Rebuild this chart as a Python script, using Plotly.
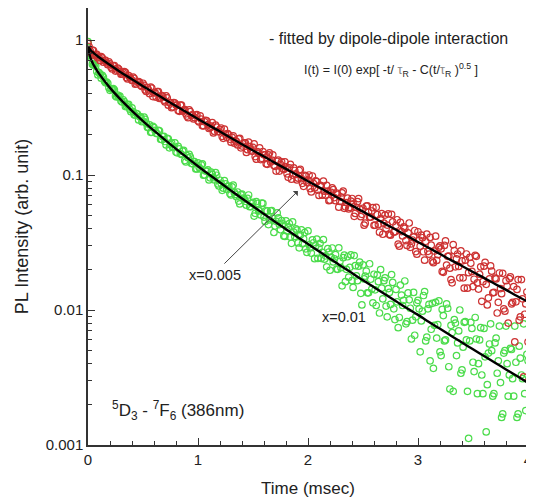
import plotly.graph_objects as go

# sampling grid A (every 0.02 ms starting at 0)
TIME_MS = [
    0.00, 0.02, 0.04, 0.06, 0.08, 0.10, 0.12, 0.14, 0.16, 0.18,
    0.20, 0.22, 0.24, 0.26, 0.28, 0.30, 0.32, 0.34, 0.36, 0.38,
    0.40, 0.42, 0.44, 0.46, 0.48, 0.50, 0.52, 0.54, 0.56, 0.58,
    0.60, 0.62, 0.64, 0.66, 0.68, 0.70, 0.72, 0.74, 0.76, 0.78,
    0.80, 0.82, 0.84, 0.86, 0.88, 0.90, 0.92, 0.94, 0.96, 0.98,
    1.00, 1.02, 1.04, 1.06, 1.08, 1.10, 1.12, 1.14, 1.16, 1.18,
    1.20, 1.22, 1.24, 1.26, 1.28, 1.30, 1.32, 1.34, 1.36, 1.38,
    1.40, 1.42, 1.44, 1.46, 1.48, 1.50, 1.52, 1.54, 1.56, 1.58,
    1.60, 1.62, 1.64, 1.66, 1.68, 1.70, 1.72, 1.74, 1.76, 1.78,
    1.80, 1.82, 1.84, 1.86, 1.88, 1.90, 1.92, 1.94, 1.96, 1.98,
    2.00, 2.02, 2.04, 2.06, 2.08, 2.10, 2.12, 2.14, 2.16, 2.18,
    2.20, 2.22, 2.24, 2.26, 2.28, 2.30, 2.32, 2.34, 2.36, 2.38,
    2.40, 2.42, 2.44, 2.46, 2.48, 2.50, 2.52, 2.54, 2.56, 2.58,
    2.60, 2.62, 2.64, 2.66, 2.68, 2.70, 2.72, 2.74, 2.76, 2.78,
    2.80, 2.82, 2.84, 2.86, 2.88, 2.90, 2.92, 2.94, 2.96, 2.98,
    3.00, 3.02, 3.04, 3.06, 3.08, 3.10, 3.12, 3.14, 3.16, 3.18,
    3.20, 3.22, 3.24, 3.26, 3.28, 3.30, 3.32, 3.34, 3.36, 3.38,
    3.40, 3.42, 3.44, 3.46, 3.48, 3.50, 3.52, 3.54, 3.56, 3.58,
    3.60, 3.62, 3.64, 3.66, 3.68, 3.70, 3.72, 3.74, 3.76, 3.78,
    3.80, 3.82, 3.84, 3.86, 3.88, 3.90, 3.92, 3.94, 3.96, 3.98,
    4.00,
]

# sampling grid B (every 0.02 ms starting at 0.01)
TIME_MS_B = [
    0.01, 0.03, 0.05, 0.07, 0.09, 0.11, 0.13, 0.15, 0.17, 0.19,
    0.21, 0.23, 0.25, 0.27, 0.29, 0.31, 0.33, 0.35, 0.37, 0.39,
    0.41, 0.43, 0.45, 0.47, 0.49, 0.51, 0.53, 0.55, 0.57, 0.59,
    0.61, 0.63, 0.65, 0.67, 0.69, 0.71, 0.73, 0.75, 0.77, 0.79,
    0.81, 0.83, 0.85, 0.87, 0.89, 0.91, 0.93, 0.95, 0.97, 0.99,
    1.01, 1.03, 1.05, 1.07, 1.09, 1.11, 1.13, 1.15, 1.17, 1.19,
    1.21, 1.23, 1.25, 1.27, 1.29, 1.31, 1.33, 1.35, 1.37, 1.39,
    1.41, 1.43, 1.45, 1.47, 1.49, 1.51, 1.53, 1.55, 1.57, 1.59,
    1.61, 1.63, 1.65, 1.67, 1.69, 1.71, 1.73, 1.75, 1.77, 1.79,
    1.81, 1.83, 1.85, 1.87, 1.89, 1.91, 1.93, 1.95, 1.97, 1.99,
    2.01, 2.03, 2.05, 2.07, 2.09, 2.11, 2.13, 2.15, 2.17, 2.19,
    2.21, 2.23, 2.25, 2.27, 2.29, 2.31, 2.33, 2.35, 2.37, 2.39,
    2.41, 2.43, 2.45, 2.47, 2.49, 2.51, 2.53, 2.55, 2.57, 2.59,
    2.61, 2.63, 2.65, 2.67, 2.69, 2.71, 2.73, 2.75, 2.77, 2.79,
    2.81, 2.83, 2.85, 2.87, 2.89, 2.91, 2.93, 2.95, 2.97, 2.99,
    3.01, 3.03, 3.05, 3.07, 3.09, 3.11, 3.13, 3.15, 3.17, 3.19,
    3.21, 3.23, 3.25, 3.27, 3.29, 3.31, 3.33, 3.35, 3.37, 3.39,
    3.41, 3.43, 3.45, 3.47, 3.49, 3.51, 3.53, 3.55, 3.57, 3.59,
    3.61, 3.63, 3.65, 3.67, 3.69, 3.71, 3.73, 3.75, 3.77, 3.79,
    3.81, 3.83, 3.85, 3.87, 3.89, 3.91, 3.93, 3.95, 3.97, 3.99,
]

# x = 0.005 (red), grid A
RED_PL = [
    0.945, 0.830, 0.840, 0.766, 0.782, 0.745, 0.753, 0.685, 0.708, 0.656,
    0.665, 0.610, 0.645, 0.599, 0.608, 0.558, 0.573, 0.576, 0.515, 0.529,
    0.502, 0.520, 0.474, 0.491, 0.461, 0.478, 0.427, 0.444, 0.400, 0.440,
    0.406, 0.377, 0.415, 0.372, 0.382, 0.348, 0.373, 0.344, 0.315, 0.344,
    0.330, 0.301, 0.329, 0.297, 0.305, 0.273, 0.304, 0.277, 0.260, 0.277,
    0.252, 0.274, 0.232, 0.248, 0.252, 0.221, 0.230, 0.205, 0.234, 0.210,
    0.218, 0.193, 0.219, 0.190, 0.198, 0.175, 0.195, 0.180, 0.167, 0.187,
    0.164, 0.173, 0.147, 0.175, 0.153, 0.160, 0.137, 0.149, 0.159, 0.133,
    0.141, 0.121, 0.141, 0.125, 0.141, 0.116, 0.126, 0.107, 0.125, 0.110,
    0.115, 0.0961, 0.120, 0.0998, 0.108, 0.0920, 0.108, 0.0939, 0.0825, 0.0982,
    0.0917, 0.0792, 0.0983, 0.0802, 0.0893, 0.0706, 0.0834, 0.0901, 0.0708, 0.0760,
    0.0651, 0.0802, 0.0680, 0.0734, 0.0578, 0.0684, 0.0760, 0.0581, 0.0674, 0.0575,
    0.0670, 0.0494, 0.0575, 0.0668, 0.0491, 0.0567, 0.0440, 0.0590, 0.0488, 0.0541,
    0.0424, 0.0576, 0.0430, 0.0476, 0.0364, 0.0505, 0.0426, 0.0363, 0.0511, 0.0377,
    0.0424, 0.0308, 0.0445, 0.0354, 0.0402, 0.0301, 0.0441, 0.0309, 0.0346, 0.0271,
    0.0380, 0.0297, 0.0343, 0.0234, 0.0365, 0.0259, 0.0302, 0.0224, 0.0352, 0.0257,
    0.0299, 0.0193, 0.0301, 0.0215, 0.0251, 0.0168, 0.0305, 0.0209, 0.0260, 0.0173,
    0.0231, 0.0145, 0.0260, 0.0189, 0.0222, 0.0149, 0.0254, 0.0159, 0.0184, 0.0116,
    0.0211, 0.0155, 0.0123, 0.0212, 0.0134, 0.0172, 0.0095, 0.0188, 0.0132, 0.0102,
    0.0165, 0.0080, 0.0176, 0.0114, 0.0058, 0.0142, 0.0084, 0.0168, 0.0032, 0.0111,
    0.0058,
]

# x = 0.005 (red), grid B
RED_PL_B = [
    0.895, 0.801, 0.836, 0.778, 0.737, 0.705, 0.738, 0.706, 0.678, 0.690,
    0.629, 0.643, 0.589, 0.620, 0.584, 0.561, 0.584, 0.527, 0.544, 0.514,
    0.530, 0.470, 0.486, 0.486, 0.452, 0.461, 0.416, 0.427, 0.448, 0.381,
    0.408, 0.415, 0.369, 0.388, 0.358, 0.386, 0.329, 0.344, 0.320, 0.341,
    0.329, 0.296, 0.329, 0.302, 0.284, 0.266, 0.295, 0.279, 0.266, 0.280,
    0.247, 0.259, 0.231, 0.254, 0.236, 0.225, 0.244, 0.210, 0.226, 0.209,
    0.223, 0.187, 0.201, 0.203, 0.184, 0.190, 0.172, 0.177, 0.185, 0.159,
    0.170, 0.173, 0.154, 0.162, 0.150, 0.170, 0.131, 0.145, 0.130, 0.149,
    0.141, 0.120, 0.146, 0.129, 0.118, 0.107, 0.129, 0.120, 0.112, 0.125,
    0.102, 0.113, 0.0932, 0.113, 0.101, 0.0948, 0.110, 0.0868, 0.0994, 0.0884,
    0.100, 0.0749, 0.0865, 0.0906, 0.0773, 0.0837, 0.0709, 0.0758, 0.0837, 0.0645,
    0.0744, 0.0778, 0.0645, 0.0717, 0.0637, 0.0738, 0.0566, 0.0625, 0.0561, 0.0641,
    0.0612, 0.0519, 0.0634, 0.0559, 0.0511, 0.0425, 0.0588, 0.0530, 0.0487, 0.0573,
    0.0425, 0.0508, 0.0377, 0.0517, 0.0440, 0.0402, 0.0515, 0.0358, 0.0450, 0.0380,
    0.0466, 0.0297, 0.0381, 0.0413, 0.0327, 0.0373, 0.0291, 0.0330, 0.0388, 0.0259,
    0.0330, 0.0358, 0.0270, 0.0323, 0.0272, 0.0345, 0.0230, 0.0273, 0.0233, 0.0291,
    0.0284, 0.0190, 0.0325, 0.0250, 0.0204, 0.0159, 0.0275, 0.0239, 0.0210, 0.0274,
    0.0173, 0.0234, 0.0145, 0.0245, 0.0193, 0.0169, 0.0250, 0.0143, 0.0209, 0.0162,
    0.0225, 0.0109, 0.0170, 0.0194, 0.0135, 0.0170, 0.0114, 0.0144, 0.0187, 0.0098,
    0.0150, 0.0171, 0.0111, 0.0149, 0.0115, 0.0168, 0.0089, 0.0121, 0.0093, 0.0136,
]

# x = 0.01 (green), grid A
GREEN_PL = [
    0.972, 0.767, 0.662, 0.660, 0.585, 0.574, 0.521, 0.531, 0.482, 0.478,
    0.424, 0.432, 0.427, 0.379, 0.379, 0.353, 0.361, 0.321, 0.332, 0.307,
    0.314, 0.280, 0.285, 0.256, 0.270, 0.251, 0.258, 0.226, 0.235, 0.207,
    0.224, 0.204, 0.214, 0.184, 0.192, 0.177, 0.187, 0.159, 0.173, 0.161,
    0.148, 0.163, 0.144, 0.150, 0.128, 0.139, 0.142, 0.122, 0.126, 0.111,
    0.123, 0.111, 0.121, 0.100, 0.107, 0.0919, 0.105, 0.0956, 0.104, 0.0859,
    0.0914, 0.0770, 0.0907, 0.0785, 0.0826, 0.0712, 0.0842, 0.0718, 0.0748, 0.0611,
    0.0723, 0.0665, 0.0597, 0.0711, 0.0584, 0.0627, 0.0520, 0.0617, 0.0542, 0.0618,
    0.0488, 0.0546, 0.0429, 0.0542, 0.0477, 0.0419, 0.0524, 0.0429, 0.0460, 0.0354,
    0.0457, 0.0406, 0.0347, 0.0449, 0.0351, 0.0391, 0.0289, 0.0392, 0.0337, 0.0284,
    0.0385, 0.0288, 0.0331, 0.0240, 0.0335, 0.0288, 0.0241, 0.0332, 0.0252, 0.0285,
    0.0197, 0.0288, 0.0239, 0.0201, 0.0289, 0.0206, 0.0244, 0.0162, 0.0248, 0.0207,
    0.0165, 0.0253, 0.0179, 0.0211, 0.0133, 0.0216, 0.0178, 0.0134, 0.0220, 0.0143,
    0.0184, 0.0108, 0.0162, 0.0199, 0.0121, 0.0173, 0.0089, 0.0135, 0.0183, 0.0102,
    0.0142, 0.0074, 0.0153, 0.0108, 0.0164, 0.0082, 0.0119, 0.0061, 0.0135, 0.0089,
    0.0118, 0.0049, 0.0098, 0.0137, 0.0063, 0.0110, 0.0072, 0.0037, 0.0114, 0.0078,
    0.0049, 0.0101, 0.0059, 0.0111, 0.0038, 0.0077, 0.0025, 0.0080, 0.0057, 0.0100,
    0.0036, 0.0081, 0.0060, 0.00112, 0.0081, 0.0041, 0.0088, 0.0024, 0.0060, 0.0033,
    0.0073, 0.00125, 0.0048, 0.0079, 0.0023, 0.0057, 0.0034, 0.0076, 0.0016, 0.0048,
    0.0076, 0.0023, 0.0052, 0.0031, 0.0076, 0.0016, 0.0054, 0.0033, 0.0079, 0.0018,
    0.0042,
]

# x = 0.01 (green), grid B
GREEN_PL_B = [
    0.776, 0.730, 0.651, 0.644, 0.551, 0.559, 0.547, 0.495, 0.488, 0.442,
    0.435, 0.436, 0.384, 0.390, 0.384, 0.347, 0.350, 0.325, 0.333, 0.294,
    0.295, 0.277, 0.283, 0.270, 0.248, 0.268, 0.242, 0.224, 0.207, 0.229,
    0.214, 0.202, 0.212, 0.183, 0.193, 0.167, 0.185, 0.169, 0.160, 0.173,
    0.146, 0.156, 0.142, 0.152, 0.125, 0.134, 0.136, 0.121, 0.125, 0.111,
    0.114, 0.119, 0.0996, 0.107, 0.109, 0.0953, 0.101, 0.0919, 0.0996, 0.0829,
    0.0868, 0.0799, 0.0859, 0.0821, 0.0729, 0.0818, 0.0743, 0.0690, 0.0641, 0.0716,
    0.0673, 0.0638, 0.0672, 0.0583, 0.0616, 0.0496, 0.0635, 0.0549, 0.0506, 0.0616,
    0.0453, 0.0540, 0.0465, 0.0545, 0.0375, 0.0454, 0.0482, 0.0393, 0.0435, 0.0351,
    0.0385, 0.0437, 0.0312, 0.0377, 0.0399, 0.0314, 0.0360, 0.0310, 0.0375, 0.0267,
    0.0304, 0.0264, 0.0315, 0.0298, 0.0241, 0.0312, 0.0267, 0.0238, 0.0209, 0.0269,
    0.0246, 0.0227, 0.0257, 0.0200, 0.0229, 0.0151, 0.0255, 0.0200, 0.0175, 0.0256,
    0.0147, 0.0213, 0.0165, 0.0226, 0.0109, 0.0170, 0.0194, 0.0134, 0.0169, 0.0113,
    0.0141, 0.0182, 0.0095, 0.0145, 0.0165, 0.0107, 0.0144, 0.0110, 0.0160, 0.0085,
    0.0115, 0.0088, 0.0129, 0.0118, 0.0079, 0.0134, 0.0103, 0.0084, 0.0065, 0.0113,
    0.0102, 0.0083, 0.0128, 0.0059, 0.0102, 0.0042, 0.0112, 0.0077, 0.0062, 0.0117,
    0.0046, 0.0091, 0.0060, 0.0103, 0.0026, 0.0068, 0.0085, 0.0046, 0.0070, 0.0034,
    0.0053, 0.0082, 0.0025, 0.0059, 0.0073, 0.0035, 0.0061, 0.0040, 0.0074, 0.0024,
    0.0045, 0.0028, 0.0056, 0.0050, 0.0024, 0.0062, 0.0042, 0.0029, 0.0017, 0.0050,
    0.0040, 0.0033, 0.0051, 0.0023, 0.0041, 0.0017, 0.0044, 0.0031, 0.0024, 0.0047,
]

# fitted curves (dipole-dipole model)
FIT_T = [0.00, 0.02, 0.04, 0.06, 0.08,
         0.1, 0.2, 0.3, 0.4, 0.5, 0.6, 0.7, 0.8, 0.9, 1.0,
         1.1, 1.2, 1.3, 1.4, 1.5, 1.6, 1.7, 1.8, 1.9, 2.0,
         2.1, 2.2, 2.3, 2.4, 2.5, 2.6, 2.7, 2.8, 2.9, 3.0,
         3.1, 3.2, 3.3, 3.4, 3.5, 3.6, 3.7, 3.8, 3.9, 4.0]
FIT_RED = [0.900, 0.847, 0.816, 0.790, 0.767,
           0.745, 0.652, 0.575, 0.512, 0.455, 0.406, 0.363, 0.324, 0.290, 0.260,
           0.233, 0.210, 0.188, 0.169, 0.152, 0.137, 0.123, 0.111, 0.100, 0.0899,
           0.0811, 0.0731, 0.0658, 0.0593, 0.0535, 0.0482, 0.0435, 0.0393, 0.0354, 0.0319,
           0.0288, 0.0260, 0.0234, 0.0212, 0.0191, 0.0173, 0.0156, 0.0141, 0.0127, 0.0115]
FIT_GREEN = [0.900, 0.745, 0.682, 0.635, 0.597,
             0.563, 0.442, 0.360, 0.299, 0.251, 0.213, 0.182, 0.156, 0.1346, 0.116,
             0.101, 0.0879, 0.0766, 0.0669, 0.0586, 0.0514, 0.0451, 0.0397, 0.0349, 0.0308,
             0.0272, 0.0240, 0.0212, 0.0188, 0.0166, 0.01474, 0.01307, 0.01161, 0.0103, 0.0092,
             0.00815, 0.00725, 0.00645, 0.00574, 0.00512, 0.00456, 0.00407, 0.00363, 0.00324, 0.00289]

X_TICKS = [0, 1, 2, 3, 4]
Y_TICKS = [0.001, 0.01, 0.1, 1]
Y_TICK_TEXT = ["0.001", "0.01", "0.1", "1"]
Y_MINOR = [0.002, 0.003, 0.004, 0.005, 0.006, 0.007, 0.008, 0.009,
           0.02, 0.03, 0.04, 0.05, 0.06, 0.07, 0.08, 0.09,
           0.2, 0.3, 0.4, 0.5, 0.6, 0.7, 0.8, 0.9]

FONT = "Arial, Liberation Sans, sans-serif"
RED = "rgb(205,50,50)"
GREEN = "rgb(75,220,75)"


def markers(color):
    return dict(symbol="circle-open", size=6.5, color=color, line=dict(width=1.2, color=color))


fig = go.Figure()
fig.add_trace(go.Scatter(x=TIME_MS, y=GREEN_PL, mode="markers", marker=markers(GREEN)))
fig.add_trace(go.Scatter(x=TIME_MS_B, y=GREEN_PL_B, mode="markers", marker=markers(GREEN)))
fig.add_trace(go.Scatter(x=TIME_MS, y=RED_PL, mode="markers", marker=markers(RED)))
fig.add_trace(go.Scatter(x=TIME_MS_B, y=RED_PL_B, mode="markers", marker=markers(RED)))
fig.add_trace(go.Scatter(x=FIT_T, y=FIT_RED, mode="lines", line_shape="spline",
                         line=dict(color="black", width=2.4)))
fig.add_trace(go.Scatter(x=FIT_T, y=FIT_GREEN, mode="lines", line_shape="spline",
                         line=dict(color="black", width=2.4)))

axis_common = dict(showline=True, linecolor="#333", linewidth=1.5, mirror=True,
                   showgrid=False, zeroline=False, ticks="inside", tickcolor="#333",
                   tickfont=dict(family=FONT, size=15, color="#222"))

fig.update_xaxes(range=[0, 4], tickvals=X_TICKS, ticklen=7,
                 minor=dict(ticks="inside", dtick=0.2, ticklen=4, tickcolor="#333"),
                 title=dict(text="Time (msec)", font=dict(family=FONT, size=17, color="#222"),
                            standoff=15),
                 automargin=False, **axis_common)
fig.update_yaxes(type="log", range=[-3, 0.237], tickvals=Y_TICKS, ticktext=Y_TICK_TEXT,
                 ticklen=7,
                 minor=dict(ticks="inside", tickmode="array", tickvals=Y_MINOR, ticklen=4,
                            tickcolor="#333"),
                 title=dict(text="PL Intensity (arb. unit)",
                            font=dict(family=FONT, size=18, color="#222"), standoff=12),
                 automargin=False, **axis_common)

ann_font = dict(family=FONT, color="#222")
common = dict(xref="paper", yref="paper", xanchor="center", yanchor="middle")
fig.add_annotation(x=0.682, y=0.931, text="- fitted by dipole-dipole interaction",
                   showarrow=False, font=dict(size=16, **ann_font), **common)
fig.add_annotation(x=0.689, y=0.858,
                   text="I(t) = I(0) exp[ -t/ <span style='color:#888'>τ</span><sub>R</sub>"
                        " - C(t/<span style='color:#888'>τ</span><sub>R</sub> )<sup>0.5</sup> ]",
                   showarrow=False, font=dict(size=12.5, **ann_font), **common)
fig.add_annotation(x=0.289, y=0.389, text="x=0.005",
                   showarrow=False, font=dict(size=14.5, **ann_font), **common)
fig.add_annotation(x=0.477, y=0.581, ax=-75, ay=74,
                   text="", showarrow=True, arrowhead=1, arrowsize=1.2, arrowwidth=1,
                   arrowcolor="#444", **common)
fig.add_annotation(x=0.582, y=0.293, text="x=0.01",
                   showarrow=False, font=dict(size=14.5, **ann_font), **common)
fig.add_annotation(x=0.2045, y=0.080,
                   text="<sup>5</sup>D<sub>3</sub> - <sup>7</sup>F<sub>6</sub> (386nm)",
                   showarrow=False, font=dict(size=17, **ann_font), **common)

# the page body adds an 8 px offset, so the figure is sized to fit the 534x500 window
fig.update_layout(width=526, height=492, showlegend=False,
                  margin=dict(l=80, r=6, t=0, b=55),
                  paper_bgcolor="white", plot_bgcolor="white")

fig.write_html("out.html")
